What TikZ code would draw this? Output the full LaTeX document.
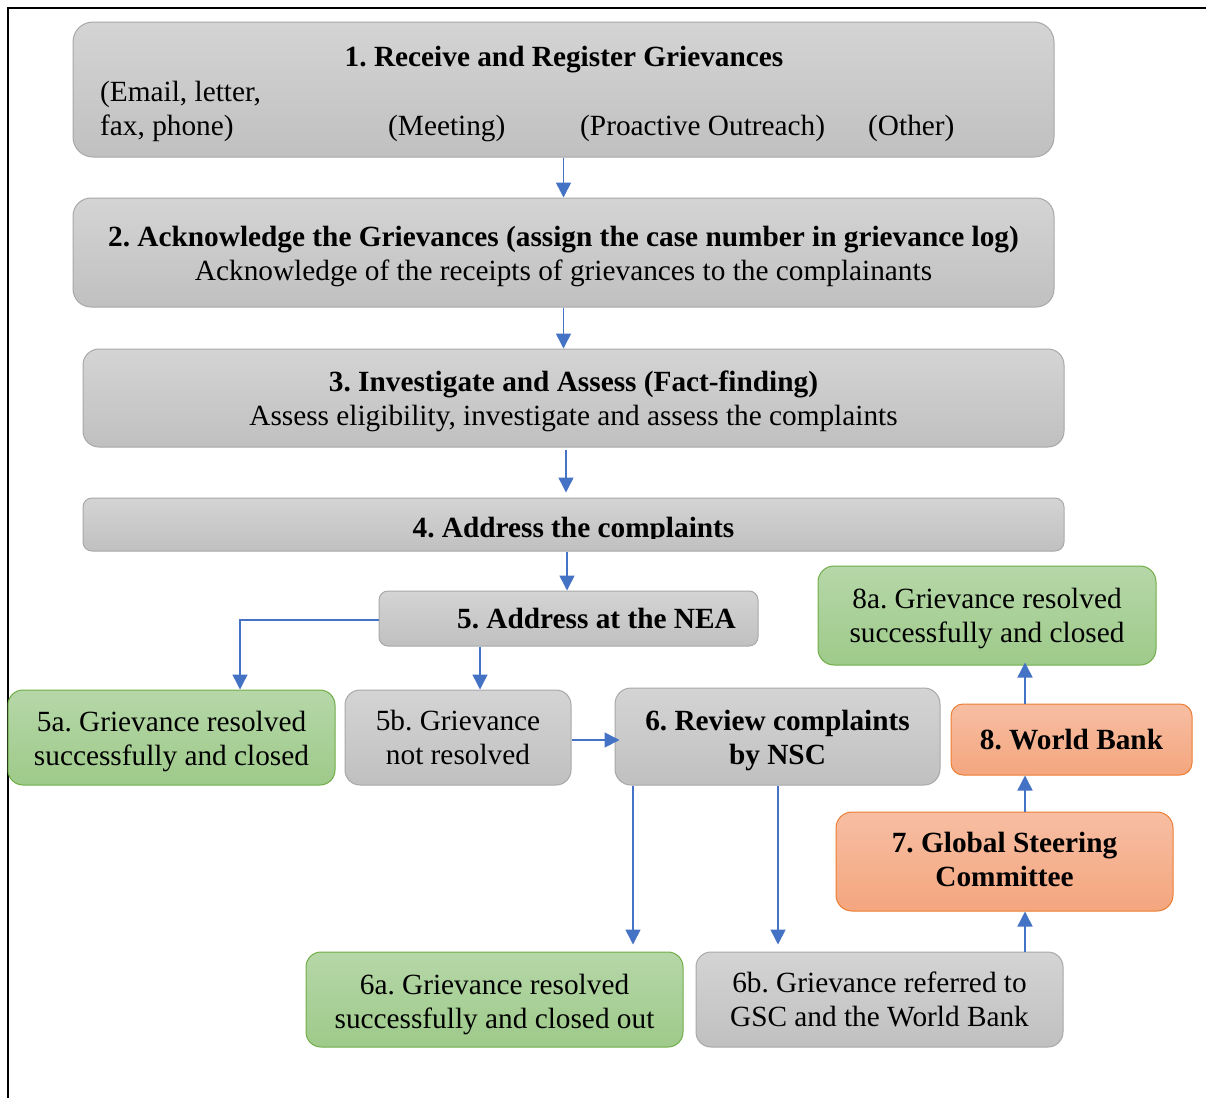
\documentclass[tikz,border=0pt]{standalone}
\usepackage{fontspec}
\setmainfont{Liberation Serif}
\usetikzlibrary{arrows.meta,calc}
\frenchspacing
\newcommand\myfs{\fontsize{29.3}{34}\selectfont}
\newcommand\dn[2][4pt]{\raisebox{-#1}[\height][\depth]{\begin{tabular}{@{}c@{}}#2\end{tabular}}}
\definecolor{gtop}{HTML}{D4D4D4}
\definecolor{gbot}{HTML}{C0C0C0}
\definecolor{gline}{HTML}{A8A8A8}
\definecolor{ftop}{HTML}{B6D7A8}
\definecolor{fbot}{HTML}{9ECA8A}
\definecolor{fline}{HTML}{70AD47}
\definecolor{otop}{HTML}{F7BEA3}
\definecolor{obot}{HTML}{F4A67E}
\definecolor{oline}{HTML}{ED7D31}
\definecolor{arr}{HTML}{4472C4}
\tikzset{
  box/.style={draw, line width=1pt, inner sep=0pt, align=center, font=\myfs},
  graybox/.style={box, draw=gline, top color=gtop, bottom color=gbot},
  greenbox/.style={box, draw=fline, top color=ftop, bottom color=fbot},
  orangebox/.style={box, draw=oline, top color=otop, bottom color=obot},
  txt/.style={inner sep=0pt, font=\myfs},
  conn/.style={draw=arr, line width=1.5pt, -{Triangle[length=15pt,width=15pt]}}
}
\begin{document}
\begin{tikzpicture}[x=1pt, y=-1pt]
\useasboundingbox (0,0) rectangle (1206,1098);
\draw[line width=2pt] (7.5,1098) -- (7.5,7.5) -- (1206,7.5);

% boxes
\node[graybox, rounded corners=20pt, minimum width=981pt, minimum height=135pt] (n1) at (563.5,89.5) {};
\node[txt, anchor=base, font=\myfs\bfseries] (t1) at (564,66) {1. Receive and Register Grievances};
\node[txt, anchor=base west] (t1a) at (100,101) {(Email, letter,};
\node[txt, anchor=base west] (t1b) at (100,135) {fax, phone)};
\node[txt, anchor=base west] (t1c) at (388,135) {(Meeting)};
\node[txt, anchor=base west] (t1d) at (580,135) {(Proactive Outreach)};
\node[txt, anchor=base west] (t1e) at (868,135) {(Other)};

\node[graybox, rounded corners=18pt, minimum width=981pt, minimum height=109pt] (n2) at (563.5,252.5)
  {\dn{\textbf{2. Acknowledge the Grievances (assign the case number in grievance log)}\\Acknowledge of the receipts of grievances to the complainants}};

\node[graybox, rounded corners=16pt, minimum width=981pt, minimum height=98pt] (n3) at (573.5,398)
  {\dn{\textbf{3. Investigate and Assess (Fact-finding)}\\Assess eligibility, investigate and assess the complaints}};

\node[graybox, rounded corners=9pt, minimum width=981pt, minimum height=53pt] (n4) at (573.5,524.5) {};
\begin{scope}
\clip (83,498) rectangle (1064,538.5);
\node[txt, anchor=base, font=\myfs\bfseries] (t4) at (573.5,537) {4. Address the complaints};
\end{scope}

\node[graybox, rounded corners=9pt, minimum width=379pt, minimum height=55pt, font=\myfs\bfseries] (n5) at (568.5,618.5) {\hspace*{56pt}\raisebox{-3pt}{5. Address at the NEA}};

\node[greenbox, rounded corners=15pt, minimum width=327pt, minimum height=95pt] (n5a) at (171.5,737.5)
  {\dn{5a. Grievance resolved\\successfully and closed}};
\node[graybox, rounded corners=15pt, minimum width=226pt, minimum height=95pt] (n5b) at (458,737.5)
  {\dn[3pt]{5b. Grievance\\not resolved}};
\node[graybox, rounded corners=16pt, minimum width=325pt, minimum height=97pt, font=\myfs\bfseries] (n6) at (777.5,736.5)
  {\dn{6. Review complaints\\by NSC}};
\node[greenbox, rounded corners=15pt, minimum width=377pt, minimum height=95pt] (n6a) at (494.5,999.5)
  {\dn[5pt]{6a. Grievance resolved\\successfully and closed out}};
\node[graybox, rounded corners=15pt, minimum width=367pt, minimum height=95pt] (n6b) at (879.5,999.5)
  {\dn[3pt]{6b. Grievance referred to\\GSC and the World Bank}};
\node[orangebox, rounded corners=16pt, minimum width=337pt, minimum height=99pt, font=\myfs\bfseries] (n7) at (1004.5,861.5)
  {\dn[1.5pt]{7. Global Steering\\Committee}};
\node[orangebox, rounded corners=12pt, minimum width=241pt, minimum height=71pt, font=\myfs\bfseries] (n8) at (1071.5,739.5)
  {8. World Bank};
\node[greenbox, rounded corners=16pt, minimum width=338pt, minimum height=99pt] (n8a) at (987,615.5)
  {\dn[3pt]{8a. Grievance resolved\\successfully and closed}};

% connectors
\draw[conn] (n1.south) -- (n2.north);
\draw[conn] (n2.south) -- (n2.south |- n3.north);
\coordinate (c34) at ([xshift=-7.5pt]n3.south);
\draw[conn, shorten <=2pt, shorten >=5pt] (c34) -- (c34 |- n4.north);
\coordinate (c45) at ([xshift=-6.5pt]n4.south);
\draw[conn] (c45) -- (c45 |- n5.north);
\coordinate (c5a) at ([xshift=68.5pt]n5a.north);
\draw[conn] ([yshift=-1.5pt]n5.west) -| (c5a);
\coordinate (c5b) at ([xshift=22pt]n5b.north);
\draw[conn] (n5.south -| c5b) -- (c5b);
\draw[conn, shorten >=-5pt] ([yshift=-2.5pt]n5b.east) -- ([yshift=-2.5pt]n5b.east -| n6.west);
\coordinate (c6a) at ([xshift=138.5pt]n6a.north);
\draw[conn, shorten >=7pt] (n6.south -| c6a) -- (c6a);
\coordinate (c6b) at ([xshift=-101.5pt]n6b.north);
\draw[conn, shorten >=7pt] (n6.south -| c6b) -- (c6b);
\coordinate (c67) at ([xshift=145.5pt]n6b.north);
\draw[conn] (c67) -- (c67 |- n7.south);
\draw[conn] (c67 |- n7.north) -- (c67 |- n8.south);
\draw[conn, shorten >=-3pt] (c67 |- n8.north) -- (c67 |- n8a.south);
\end{tikzpicture}
\end{document}
